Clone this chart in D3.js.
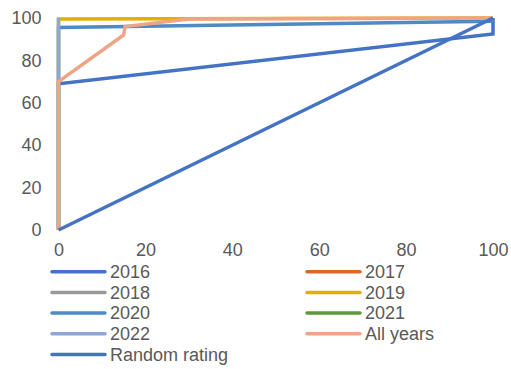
<!DOCTYPE html>
<html>
<head>
<meta charset="utf-8">
<script src="https://cdn.jsdelivr.net/npm/d3@7"></script>
<style>
  body { margin: 0; background: #fff; }
  text { font-family: "Liberation Sans", Arial, sans-serif; fill: #595959; }
</style>
</head>
<body>
<div id="chart"></div>
<script>
// series names (legend order) and colours
var seriesNames = ["2016", "2017", "2018", "2019", "2020", "2021", "2022", "All years", "Random rating"];
var seriesColors = ["#4472C4", "#D4692B", "#999999", "#E6AC00", "#4E8AC4", "#5E9A3A", "#8EA6D6", "#F0A486", "#4472C4"];

// [x, y] points, one list per series
var s2016 = [[0, 0], [0, 69], [100, 92.5], [100, 100]];
var s2017 = [];
var s2018 = [];
var s2019 = [[0, 0], [0, 99.5], [100, 100]];
var s2020 = [[0, 0], [0, 95.5], [100, 98.5]];
var s2021 = [];
var s2022 = [[0, 0], [0, 100]];
var sAll = [[0, 0], [0, 70], [15, 92], [15.3, 96], [30, 99.5], [100, 100]];
var sRandom = [[0, 0], [100, 100]];

var xTicks = [0, 20, 40, 60, 80, 100];
var yTicks = [0, 20, 40, 60, 80, 100];

function init() {
    var w = 511, h = 369;
    var seriesData = [s2016, s2017, s2018, s2019, s2020, s2021, s2022, sAll, sRandom];

    var x = d3.scaleLinear().domain([0, 100]).range([58.5, 493]);
    var y = d3.scaleLinear().domain([0, 100]).range([230, 18]);

    var svg = d3.select("#chart").append("svg")
        .attr("width", w)
        .attr("height", h);

    // y tick labels
    var yAxis = svg.append("g")
        .attr("transform", "translate(" + x(0) + ",0)")
        .call(d3.axisLeft(y).tickValues(yTicks).tickSize(0).tickPadding(17));
    yAxis.select(".domain").remove();
    yAxis.selectAll("text").style("font-size", "18px").attr("fill", "#595959");

    // x tick labels
    var xAxis = svg.append("g")
        .attr("transform", "translate(0," + y(0) + ")")
        .call(d3.axisBottom(x).tickValues(xTicks).tickSize(0).tickPadding(13));
    xAxis.select(".domain").remove();
    xAxis.selectAll("text").style("font-size", "18px").attr("fill", "#595959");

    var line = d3.line()
        .x(function (d) { return x(d[0]); })
        .y(function (d) { return y(d[1]); });

    svg.append("g").selectAll("path")
        .data(seriesData)
        .enter()
        .append("path")
        .attr("d", function (d) { return d.length ? line(d) : null; })
        .attr("fill", "none")
        .attr("stroke", function (d, i) { return seriesColors[i]; })
        .attr("stroke-width", 3.5)
        .attr("stroke-linejoin", "miter");

    // legend, two columns
    var legend = svg.append("g");
    var item = legend.selectAll("g")
        .data(seriesNames)
        .enter()
        .append("g")
        .attr("transform", function (d, i) {
            var col = i % 2, row = Math.floor(i / 2);
            return "translate(" + (col === 0 ? 52 : 307) + "," + (271.7 + row * 20.7) + ")";
        });
    item.append("line")
        .attr("x1", 0).attr("x2", 53)
        .attr("stroke", function (d, i) { return seriesColors[i]; })
        .attr("stroke-width", 3.5)
        .attr("stroke-linecap", "round");
    item.append("text")
        .attr("x", 58)
        .attr("dy", "0.35em")
        .style("font-size", "18px")
        .text(function (d) { return d; });
}

window.onload = init;
</script>
</body>
</html>
